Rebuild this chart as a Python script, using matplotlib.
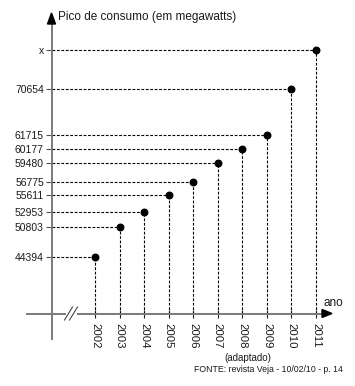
import matplotlib
matplotlib.use("Agg")
import matplotlib.pyplot as plt
import numpy as np

plt.rcParams["font.family"] = ["Liberation Sans", "DejaVu Sans"]

# data
years = [2002, 2003, 2004, 2005, 2006, 2007, 2008, 2009, 2010, 2011]
consumo = [44394, 50803, 52953, 55611, 56775, 59480, 60177, 61715, 70654, 75000]  # 2011 = "x" (unknown)
consumo_labels = ["44394", "50803", "52953", "55611", "56775", "59480",
                  "60177", "61715", "70654", "x"]
year_labels = [str(y) for y in years]

# the original axis is not to scale: pixel height (from bottom) of each level
knot_vals = [0] + consumo + [100000]
knot_h = [0, 129.3, 159.3, 174.3, 191, 204.3, 222.7, 237, 251.3, 297, 336, 386]

FIG_W, FIG_H = 355, 386
YEAR0_PX, YEAR1_PX = 95, 316
STEP_PX = (YEAR1_PX - YEAR0_PX) / (years[-1] - years[0])
AXIS_X_PX, AXIS_Y_PX = 51.5, 313.5

AXIS_GRAY = "#7a7a7a"
TXT = "#1a1a1a"
DASH = (0, (2.5, 1.5))


def fwd(v):
    return np.interp(v, knot_vals, knot_h)


def inv(h):
    return np.interp(h, knot_h, knot_vals)


def data_x(px):
    return years[0] + (px - YEAR0_PX) / STEP_PX


def data_y(py):
    return float(inv(FIG_H - py))


def P(px, py):
    return px / FIG_W, 1 - py / FIG_H


fig = plt.figure(figsize=(FIG_W / 100, FIG_H / 100), dpi=100, facecolor="white")
ax = fig.add_axes([0, 0, 1, 1])
ax.set_yscale("function", functions=(fwd, inv))
ax.set_xlim(data_x(0), data_x(FIG_W))
ax.set_ylim(0, 100000)
ax.patch.set_visible(False)

for side in ("top", "right"):
    ax.spines[side].set_visible(False)
ax.spines["left"].set_position(("data", data_x(AXIS_X_PX)))
ax.spines["left"].set_bounds(data_y(339), data_y(22))
ax.spines["bottom"].set_position(("data", data_y(AXIS_Y_PX)))
ax.spines["bottom"].set_bounds(data_x(27), data_x(325))
for side in ("left", "bottom"):
    ax.spines[side].set_color(AXIS_GRAY)
    ax.spines[side].set_linewidth(1.4)

ax.set_yticks(consumo, consumo_labels)
ax.set_xticks(years, year_labels)
ax.minorticks_off()
ax.tick_params(axis="y", direction="out", length=4, width=0.8, color="#555555",
               pad=1.5, labelsize=7.5, labelcolor=TXT)
ax.tick_params(axis="x", direction="inout", length=6, width=0.8, color="#222222",
               pad=4, labelsize=8.2, labelcolor=TXT, labelrotation=-90)

# dashed guide lines and points
ax.hlines(consumo, data_x(AXIS_X_PX), years, colors="black", linestyles=[DASH], lw=0.8)
ax.vlines(years, data_y(AXIS_Y_PX), consumo, colors="black", linestyles=[DASH], lw=0.8)
ax.plot(years, consumo, "o", ms=4.7, color="black", zorder=4)

# arrow heads
ax.fill(*zip(P(51.5, 13), P(47.5, 24), P(55.5, 24)), color="black",
        transform=ax.transAxes, clip_on=False, zorder=5)
ax.fill(*zip(P(332, AXIS_Y_PX), P(322, 309.5), P(322, 317.5)), color="black",
        transform=ax.transAxes, clip_on=False, zorder=5)

# axis break
ax.plot(*zip(P(66, AXIS_Y_PX), P(77, AXIS_Y_PX)), color="white", lw=3,
        transform=ax.transAxes, zorder=3, solid_capstyle="butt")
for cx in (68.5, 73.5):
    ax.plot(*zip(P(cx - 4, AXIS_Y_PX + 6.5), P(cx + 4, AXIS_Y_PX - 6.5)),
            color="#444444", lw=0.8, transform=ax.transAxes, zorder=4)

ax.text(*P(58, 17), "Pico de consumo (em megawatts)", transform=ax.transAxes,
        ha="left", va="center", fontsize=8.5, color=TXT)
ax.text(*P(323, 303), "ano", transform=ax.transAxes,
        ha="left", va="center", fontsize=8.5, color=TXT)
ax.text(*P(248, 358), "(adaptado)", transform=ax.transAxes,
        ha="center", va="center", fontsize=7, color=TXT)
ax.text(*P(268, 370), "FONTE: revista Veja - 10/02/10 - p. 14", transform=ax.transAxes,
        ha="center", va="center", fontsize=6.3, color=TXT)

fig.savefig("out.png", dpi=100)
